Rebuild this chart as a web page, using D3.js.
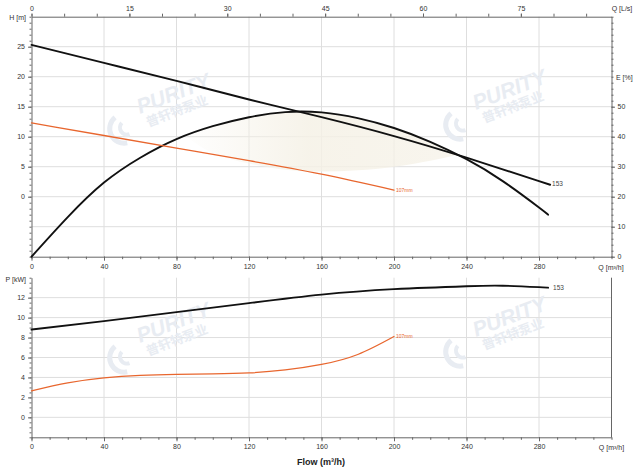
<!DOCTYPE html>
<html><head><meta charset="utf-8">
<script src="https://cdn.jsdelivr.net/npm/d3@7"></script>
<style>body{margin:0;background:#fff}svg{display:block}text{font-family:"Liberation Sans",Arial,sans-serif}</style>
</head><body><svg id="c" width="640" height="467"></svg>
<script>
// ---- data ----
const flowTicks = [0, 40, 80, 120, 160, 200, 240, 280];
const lsTicks = [0, 15, 30, 45, 60, 75];
const headTicks = [0, 5, 10, 15, 20, 25];
const effTicks = [0, 10, 20, 30, 40, 50];
const powerTicks = [0, 2, 4, 6, 8, 10, 12];

const qHead153 = [0, 40, 80, 120, 160, 200, 240, 280, 285];
const head153  = [25.3, 22.3, 19.3, 16.2, 13.25, 10.1, 6.5, 2.6, 2.1];

const qHead107 = [0, 40, 80, 120, 160, 200];
const head107  = [12.3, 10.2, 8.1, 6.0, 3.75, 1.1];

const qEff = [0, 20, 40, 60, 80, 100, 120, 140, 160, 180, 200, 220, 240, 260, 280, 285];
const eff  = [0, 13.2, 24.7, 33.0, 39.2, 43.5, 46.5, 48.2, 48.1, 46.2, 42.9, 38.3, 32.5, 25.2, 16.4, 14.0];

const qShade = [85, 100, 120, 140, 160, 180, 200, 220, 235];
const shadeTop = [40.3, 43.5, 46.5, 48.2, 48.1, 46.2, 42.9, 38.3, 34.0];
const shadeBottom = [40.3, 34.5, 31.1, 29.0, 28.4, 28.8, 30.0, 32.0, 34.0];

const qPow153 = [0, 40, 80, 120, 160, 200, 240, 260, 280, 285];
const pow153  = [8.8, 9.65, 10.55, 11.45, 12.3, 12.85, 13.15, 13.2, 13.05, 13.0];

const qPow107 = [0, 20, 40, 60, 80, 100, 120, 140, 160, 180, 200];
const pow107  = [2.65, 3.45, 3.95, 4.2, 4.3, 4.35, 4.45, 4.75, 5.3, 6.3, 8.1];

const label153 = "153", label107 = "107mm";

// ---- layout ----
const svg = d3.select("#c");
const X0 = 31.5, X1 = 611.5;
const T0 = 16.7, T1 = 256.7;   // top chart
const B0 = 277.7, B1 = 437.3;  // bottom chart
const ORANGE = "#e8662e", BLACK = "#111", GRID = "#dedede", AX = "#666", TXT = "#333";

const x = d3.scaleLinear().domain([0, 320]).range([X0, X1]);
const xLs = d3.scaleLinear().domain([0, 320 / 3.6]).range([X0, X1]);
const yH = d3.scaleLinear().domain([-10, 30]).range([T1, T0]);
const yE = d3.scaleLinear().domain([0, 80]).range([T1, T0]);
const yP = d3.scaleLinear().domain([-2, 14]).range([B1, B0]);

// ---- grids ----
const grid = svg.append("g").attr("stroke", GRID).attr("stroke-width", 1);
[40, 80, 120, 160, 200, 240, 280].forEach(q => {
  grid.append("line").attr("x1", x(q)).attr("x2", x(q)).attr("y1", T0).attr("y2", T1);
  grid.append("line").attr("x1", x(q)).attr("x2", x(q)).attr("y1", B0).attr("y2", B1);
});
[-5, 0, 5, 10, 15, 20, 25].forEach(h => grid.append("line").attr("x1", X0).attr("x2", X1).attr("y1", yH(h)).attr("y2", yH(h)));
powerTicks.forEach(p => grid.append("line").attr("x1", X0).attr("x2", X1).attr("y1", yP(p)).attr("y2", yP(p)));

// ---- shaded region ----
const defs = svg.append("defs");
const lg = defs.append("linearGradient").attr("id", "sh").attr("x1", "0").attr("x2", "1").attr("y1", "0").attr("y2", "0");
lg.append("stop").attr("offset", "0").attr("stop-color", "#f5f1e6").attr("stop-opacity", 0.05);
lg.append("stop").attr("offset", "0.45").attr("stop-color", "#f5f1e6").attr("stop-opacity", 0.85);
lg.append("stop").attr("offset", "1").attr("stop-color", "#f5f1e6").attr("stop-opacity", 0.7);
const shadeData = qShade.map((q, i) => ({ q, t: shadeTop[i], b: shadeBottom[i] }));
svg.append("path").datum(shadeData)
  .attr("d", d3.area().x(d => x(d.q)).y0(d => yE(d.b)).y1(d => yE(d.t)).curve(d3.curveNatural))
  .attr("fill", "url(#sh)");

// ---- watermarks ----
function watermark(cx, cy) {
  const w = svg.append("g").attr("transform", `translate(${cx},${cy}) rotate(-21)`).attr("fill", "#e8ecf2");
  w.append("text").attr("x", 0).attr("y", 0).attr("font-size", 21).attr("font-weight", "bold").attr("font-style", "italic").text("PURITY");
  w.append("text").attr("x", 3).attr("y", 15).attr("font-size", 13).attr("font-weight", "bold")
    .style("font-family", "'Noto Sans CJK SC',sans-serif").text("普轩特泵业");
  const arc = d3.arc();
  w.append("path").attr("transform", "translate(-20,8)")
    .attr("d", arc({ innerRadius: 12, outerRadius: 17, startAngle: Math.PI * 1.05, endAngle: Math.PI * 1.9 }));
  w.append("path").attr("transform", "translate(-17,8)")
    .attr("d", arc({ innerRadius: 5, outerRadius: 9, startAngle: Math.PI * 1.0, endAngle: Math.PI * 1.85 }));
}
watermark(140, 114);
watermark(476, 110);
watermark(140, 343);
watermark(476, 337);

// ---- axes ----
function styleAxis(g) {
  g.selectAll(".domain").attr("stroke", AX);
  g.selectAll(".tick line").attr("stroke", AX);
  g.selectAll("text").attr("fill", TXT).attr("font-size", 7).style("font-family", "'Liberation Sans',Arial,sans-serif");
}
function minor(axisFn, scale, vals, size, tr) {
  const g = svg.append("g").attr("transform", tr).call(axisFn(scale).tickValues(vals).tickSize(size).tickFormat(""));
  g.select(".domain").remove();
  g.selectAll(".tick line").attr("stroke", AX);
}
// top chart
minor(d3.axisTop, xLs, d3.range(0, 89, 5), 3, `translate(0,${T0})`);
svg.append("g").attr("transform", `translate(0,${T0})`).call(d3.axisTop(xLs).tickValues(lsTicks).tickSize(3).tickPadding(3).tickSizeOuter(0)).call(styleAxis);
minor(d3.axisBottom, x, d3.range(0, 321, 10), 2.5, `translate(0,${T1})`);
svg.append("g").attr("transform", `translate(0,${T1})`).call(d3.axisBottom(x).tickValues(flowTicks).tickSize(4).tickPadding(3).tickSizeOuter(0)).call(styleAxis);
minor(d3.axisLeft, yH, d3.range(-10, 31, 1), 2, `translate(${X0},0)`);
svg.append("g").attr("transform", `translate(${X0},0)`).call(d3.axisLeft(yH).tickValues(headTicks).tickSize(3.5).tickPadding(3).tickSizeOuter(0)).call(styleAxis);
minor(d3.axisRight, yE, d3.range(0, 81, 2), 2, `translate(${X1},0)`);
svg.append("g").attr("transform", `translate(${X1},0)`).call(d3.axisRight(yE).tickValues(effTicks).tickSize(3.5).tickPadding(2.5).tickSizeOuter(0)).call(styleAxis);
// bottom chart
minor(d3.axisBottom, x, d3.range(0, 321, 10), 2.5, `translate(0,${B1})`);
svg.append("g").attr("transform", `translate(0,${B1})`).call(d3.axisBottom(x).tickValues(flowTicks).tickSize(4).tickPadding(3).tickSizeOuter(0)).call(styleAxis);
minor(d3.axisLeft, yP, d3.range(-2, 14.1, 0.5), 2, `translate(${X0},0)`);
svg.append("g").attr("transform", `translate(${X0},0)`).call(d3.axisLeft(yP).tickValues(powerTicks).tickSize(3.5).tickPadding(3).tickSizeOuter(0)).call(styleAxis);
svg.append("line").attr("x1", X1).attr("x2", X1).attr("y1", B0).attr("y2", B1).attr("stroke", AX);

// ---- axis titles ----
function txt(s, xx, yy, anchor, size, opts = {}) {
  const t = svg.append("text").attr("x", xx).attr("y", yy).attr("text-anchor", anchor).attr("font-size", size)
    .attr("fill", opts.fill || TXT).text(s);
  if (opts.bold) t.attr("font-weight", "bold");
  return t;
}
txt("Q [L/s]", 622, 10.5, "middle", 7);
txt("H [m]", 26, 19.5, "end", 7);
txt("E [%]", 616, 79.5, "start", 7);
txt("Q [m³/h]", 611, 269.5, "middle", 7);
txt("P [kW]", 26, 281.5, "end", 7);
txt("Q [m³/h]", 611.5, 450, "middle", 7);
txt("Flow (m³/h)", 321, 464.5, "middle", 9, { bold: true, fill: "#222" });

// ---- curves ----
function curve(qs, vs, ys, color, w) {
  const pts = qs.map((q, i) => [x(q), ys(vs[i])]);
  svg.append("path").attr("d", d3.line().curve(d3.curveNatural)(pts))
    .attr("fill", "none").attr("stroke", color).attr("stroke-width", w).attr("stroke-linecap", "round");
  return pts[pts.length - 1];
}
let e;
curve(qEff, eff, yE, BLACK, 1.9);
e = curve(qHead153, head153, yH, BLACK, 1.9);
txt(label153, e[0] + 4, e[1] + 2.3, "start", 6.5, { fill: "#444" });
e = curve(qHead107, head107, yH, ORANGE, 1.3);
txt(label107, e[0] + 2, e[1] + 1.8, "start", 5, { fill: ORANGE });
e = curve(qPow153, pow153, yP, BLACK, 1.9);
txt(label153, e[0] + 5, e[1] + 2.3, "start", 6.5, { fill: "#444" });
e = curve(qPow107, pow107, yP, ORANGE, 1.3);
txt(label107, e[0] + 2, e[1] + 1.8, "start", 5, { fill: ORANGE });
</script></body></html>
